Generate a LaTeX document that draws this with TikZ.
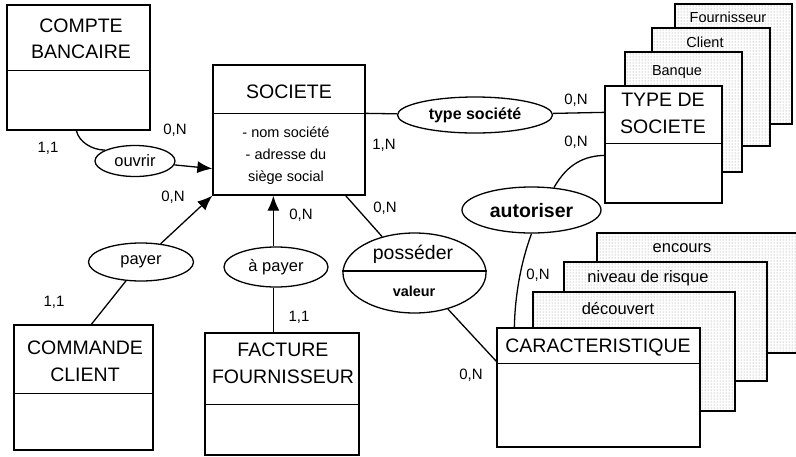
\documentclass[tikz,border=0pt]{standalone}
\usepackage{fontspec}
\setmainfont{Liberation Sans}
\usetikzlibrary{shapes.geometric,arrows.meta,patterns,calc}
\begin{document}
\begin{tikzpicture}[x=1pt,y=-1pt,
  ent/.style={draw, line width=1.3pt, fill=white, inner sep=0pt},
  rel/.style={draw, ellipse, line width=1.3pt, fill=white, inner sep=0pt},
  con/.style={line width=1.3pt},
  arr/.style={con, -{Latex[length=15pt,width=12pt]}},
  stack/.style={line width=1.3pt, preaction={fill=white}, pattern=dots, pattern color=black!45},
  big/.style={font=\fontsize{19.5}{26.5}\selectfont, align=center, inner sep=0pt},
  attr/.style={font=\fontsize{14.5}{22}\selectfont, align=center, inner sep=0pt},
  reltxt/.style={font=\fontsize{16.5}{20}\selectfont, inner sep=0pt},
  card/.style={font=\fontsize{15}{18}\selectfont, inner sep=0pt},
  stl/.style={font=\fontsize{14.5}{18}\selectfont, inner sep=0pt},
  stlb/.style={font=\fontsize{16.5}{20}\selectfont, inner sep=0pt}
]
\useasboundingbox (0,0) rectangle (796,456);
\clip (0,0) rectangle (796,456);
\fill[white] (0,0) rectangle (796,456);

% ---- stacked sheets behind TYPE DE SOCIETE
\draw[stack] (675,4) rectangle (792,124);
\node[stl] (lfou) at (728,17) {Fournisseur};
\draw[stack] (652,28) rectangle (770,146);
\node[stl] (lcli) at (705,42) {Client};
\draw[stack] (625,52) rectangle (742,172);
\node[stl] (lban) at (677,72) {Banque};

% ---- stacked sheets behind CARACTERISTIQUE
\draw[stack] (597,233) rectangle (810,353);
\node[stlb] (lenc) at (682,248) {encours};
\draw[stack] (564,262) rectangle (767,381);
\node[stlb] (lniv) at (648,278) {niveau de risque};
\draw[stack] (533,292) rectangle (735,411);
\node[stlb] (ldec) at (618,308) {découvert};

% ---- entities
\node[ent, minimum width=143pt, minimum height=125pt] (cb) at (78.5,67.5) {};
\draw[con] ($(cb.north west)+(0,66)$) -- ($(cb.north east)+(0,66)$);
\node[big] (cbt) at (81,39) {COMPTE\\BANCAIRE};

\node[ent, minimum width=152pt, minimum height=130pt] (soc) at (289,130) {};
\draw[con] ($(soc.north west)+(0,49)$) -- ($(soc.north east)+(0,49)$);
\node[big] (soct) at (289,92) {SOCIETE};
\node[attr] (soca) at (286,156) {- nom société\\- adresse du\\siège social};

\node[ent, minimum width=139pt, minimum height=125pt] (cc) at (83.5,387.5) {};
\draw[con] ($(cc.north west)+(0,69)$) -- ($(cc.north east)+(0,69)$);
\node[big] (cct) at (85,361.5) {COMMANDE\\CLIENT};

\node[ent, minimum width=154pt, minimum height=122pt] (fac) at (282,394) {};
\draw[con] ($(fac.north west)+(0,72)$) -- ($(fac.north east)+(0,72)$);
\node[big] (fact) at (283,363.5) {FACTURE\\FOURNISSEUR};

\node[ent, minimum width=117pt, minimum height=117pt] (typ) at (663.5,144.5) {};
\draw[con] ($(typ.north west)+(0,58)$) -- ($(typ.north east)+(0,58)$);
\node[big] (typt) at (663,113.5) {TYPE DE\\SOCIETE};

\node[ent, minimum width=203pt, minimum height=119pt] (car) at (598.5,387.5) {};
\draw[con] ($(car.north west)+(0,36)$) -- ($(car.north east)+(0,36)$);
\node[big] (cart) at (598,348) {CARACTERISTIQUE};

% ---- relationships
\node[rel, minimum width=80pt, minimum height=31pt] (ouv) at (135,161) {};
\node[reltxt] (ouvt) at (135,161) {ouvrir};
\node[rel, minimum width=105pt, minimum height=38pt] (pay) at (141,262) {};
\node[reltxt] (payt) at (141,262) {payer};
\node[rel, minimum width=104pt, minimum height=40pt] (apay) at (276,267) {};
\node[reltxt] (apayt) at (276,267) {à payer};
\node[rel, minimum width=155pt, minimum height=36pt] (ts) at (475,115) {};
\node[reltxt, font=\fontsize{16}{20}\selectfont\bfseries] (tst) at (475,115) {type société};
\node[rel, minimum width=139pt, minimum height=46pt] (aut) at (531.5,210) {};
\node[big, font=\fontsize{19.5}{24}\selectfont\bfseries] (autt) at (531.5,211) {autoriser};
\node[rel, minimum width=143pt, minimum height=80pt] (pos) at (414.5,273) {};
\draw[con] ($(pos.west)+(0,-2)$) -- ($(pos.east)+(0,-2)$);
\node[big] (post) at (413,254) {posséder};
\node[attr, font=\fontsize{14.4}{18}\selectfont\bfseries] (posv) at (414,291) {valeur};

% ---- connectors
\draw[con] ($(cb.south west)+(70,0)$) .. controls (79,142) and (92,150) .. (ouv.160);
\draw[arr] (ouv) -- ($(soc.south west)+(0,-27)$);
\draw[con] ($(cc.north west)+(78,0)$) -- (pay);
\draw[arr] (pay) -- (soc.south west);
\draw[con] ($(fac.north west)+(69,0)$) -- (apay.south -| {$(fac.north west)+(69,0)$});
\draw[arr] (apay.north -| {$(fac.north west)+(69,0)$}) -- ($(soc.south west)+(61,0)$);
\draw[con] ($(soc.north east)+(0,49)$) -- (ts);
\draw[con] (ts) -- ($(typ.north west)+(0,27)$);
\draw[con] (aut.45) .. controls (568,163) and (585,156) .. ($(typ.north west)+(0,70)$);
\draw[con] (aut.south) .. controls (521,262) and (515,295) .. ($(car.north west)+(18,0)$);
\draw[con] ($(soc.south east)+(-20,0)$) -- (pos);
\draw[con] (pos) -- ($(car.north west)+(0,34)$);

% ---- cardinalities
\node[card] (c1) at (48,148) {1,1};
\node[card] (c2) at (175,130) {0,N};
\node[card] (c3) at (173,197) {0,N};
\node[card] (c4) at (384,145) {1,N};
\node[card] (c5) at (301,215) {0,N};
\node[card] (c6) at (385,208) {0,N};
\node[card] (c7) at (54,302) {1,1};
\node[card] (c8) at (299,317) {1,1};
\node[card] (c9) at (576,100) {0,N};
\node[card] (c10) at (576,142) {0,N};
\node[card] (c11) at (538,275) {0,N};
\node[card] (c12) at (471,375) {0,N};
\end{tikzpicture}
\end{document}
